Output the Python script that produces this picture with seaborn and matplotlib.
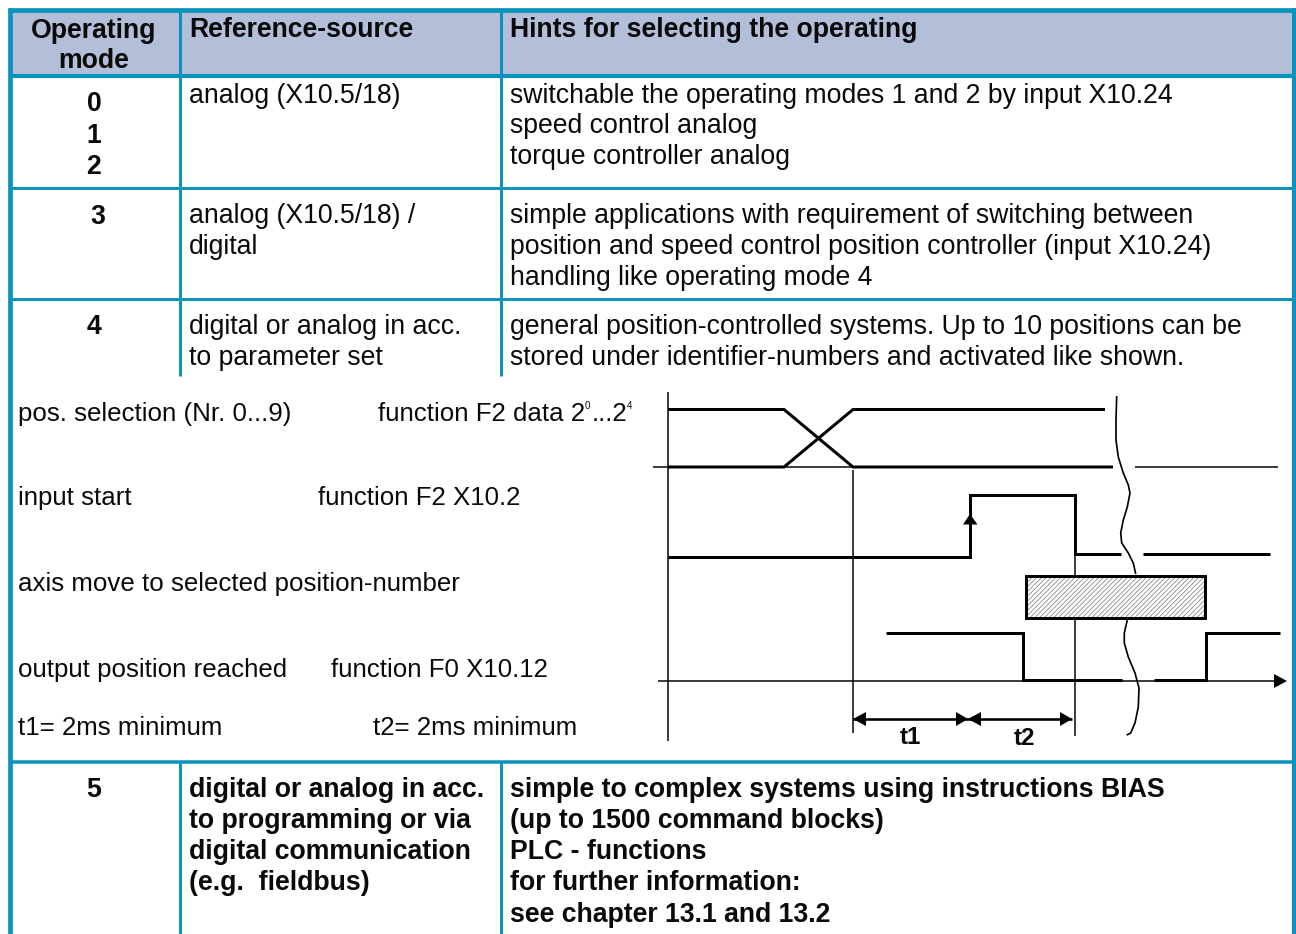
import matplotlib
matplotlib.use("Agg")
import matplotlib.pyplot as plt
from matplotlib.patches import Rectangle, Polygon
import pandas as pd
import seaborn as sns

# ---- text content ----
header_mode = ["Operating", "mode"]
header_source = "Reference-source"
header_hints = "Hints for selecting the operating"
modes = [["0", "1", "2"], ["3"], ["4"], ["5"]]
sources = [
    ["analog (X10.5/18)"],
    ["analog (X10.5/18) /", "digital"],
    ["digital or analog in acc.", "to parameter set"],
    ["digital or analog in acc.", "to programming or via", "digital communication", "(e.g.  fieldbus)"],
]
hints = [
    ["switchable the operating modes 1 and 2 by input X10.24", "speed control analog", "torque controller analog"],
    ["simple applications with requirement of switching between",
     "position and speed control position controller (input X10.24)",
     "handling like operating mode 4"],
    ["general position-controlled systems. Up to 10 positions can be",
     "stored under identifier-numbers and activated like shown."],
    ["simple to complex systems using instructions BIAS", "(up to 1500 command blocks)",
     "PLC - functions", "for further information:", "see chapter 13.1 and 13.2"],
]
signal_left = ["pos. selection (Nr. 0...9)", "input start", "axis move to selected position-number",
               "output position reached", "t1= 2ms minimum"]
signal_right = ["function F2 data 2", "function F2 X10.2", "", "function F0 X10.12", "t2= 2ms minimum"]

# ---- timing diagram traces (time, level) ----
sel_a_t = [668, 784, 853, 1113]
sel_a_v = [409.5, 409.5, 467, 467]
sel_b_t = [668, 784, 853, 1105]
sel_b_v = [467, 467, 409.5, 409.5]
start_t = [668, 970, 970, 1075, 1075, 1121]
start_v = [557, 557, 495, 495, 554, 554]
start2_t = [1143, 1270]
start2_v = [554, 554]
reached_t = [886, 1023, 1023, 1122]
reached_v = [633, 633, 680, 680]
reached2_t = [1154, 1206, 1206, 1280]
reached2_v = [680, 680, 633, 633]
break_x = [1116.7, 1116, 1116, 1118.3, 1123.3, 1128.3, 1130, 1127.3, 1123.3, 1120.7, 1121.7, 1128.3, 1133.3, 1135.7]
break_y = [396, 420, 440, 457, 473, 485, 493, 507, 520, 533, 543, 553, 563, 574]
break2_x = [1127.3, 1124.3, 1124.3, 1128.3, 1135, 1139, 1138.3, 1135, 1130.7, 1126.7]
break2_y = [620, 633, 643, 657, 673, 688, 707, 723, 733, 735]

# ---- colours ----
BORDER = "#0b93be"
HEAD = "#b3bfd9"

sns.set_theme(style="white", rc={"lines.solid_capstyle": "butt", "lines.solid_joinstyle": "miter",
                                 "hatch.linewidth": 0.5, "hatch.color": "#777777"})
plt.rcParams["font.family"] = ["Liberation Sans", "DejaVu Sans"]

W, H = 1296, 934
fig = plt.figure(figsize=(W / 100, H / 100), dpi=100, facecolor="white")
ax = fig.add_axes([0, 0, 1, 1])
ax.set_xlim(0, W)
ax.set_ylim(H, 0)
ax.axis("off")

px = 0.72  # points per pixel at dpi 100
FS = 19.2
FS2 = 18.65


def rule(x0, y0, x1, y1, w, c=BORDER, z=2):
    ax.plot([x0, x1], [y0, y1], color=c, lw=w * px, zorder=z, solid_capstyle="butt")


def trace(t, v, w=3.0, c="black", z=4):
    df = pd.DataFrame({"t": t, "v": v})
    sns.lineplot(data=df, x="t", y="v", sort=False, estimator=None, color=c, linewidth=w * px,
                 ax=ax, legend=False, zorder=z)


def txt(x, y, s, bold=False, ha="left", fs=FS, **kw):
    ax.text(x, y, s, ha=ha, va="baseline", fontsize=fs, color="#0a0a0a",
            fontweight="bold" if bold else "normal", zorder=6, **kw)


# table frame
ax.add_patch(Rectangle((10, 10), 1283, 65, facecolor=HEAD, edgecolor="none", zorder=1))
rule(7.5, 9.7, 1296, 9.7, 4.7)
rule(10, 7.5, 10, H, 4.7)
rule(1294, 7.5, 1294, H, 4)
for yy, w in [(75.5, 4.2), (187.5, 3), (298.5, 3), (761.5, 3.5)]:
    rule(10, yy, 1294, yy, w)
for xx in (179.5, 500.5):
    rule(xx, 9, xx, 376, 3)
    rule(xx, 761, xx, H, 3)

# header
for s, y in zip(header_mode, (38, 68)):
    txt(94, y, s, bold=True, ha="center")
txt(189, 37, header_source, bold=True)
txt(510, 37, header_hints, bold=True)

# rows
mode_pos = [(94, [111, 143, 174]), (98, [224]), (94, [334]), (94, [797])]
text_base = [[103, 133, 164], [223, 254, 285], [334, 365], [797, 828, 859, 890, 922]]
for r in range(4):
    bold = r == 3
    xm, ys = mode_pos[r]
    for s, y in zip(modes[r], ys):
        txt(xm, y, s, bold=True, ha="center")
    for s, y in zip(sources[r], text_base[r]):
        txt(189, y, s, bold=bold)
    for s, y in zip(hints[r], text_base[r]):
        txt(510, y, s, bold=bold)

# signal labels
lab_y = [421, 505, 591, 677, 735]
lab_x2 = [378, 318, 0, 331, 373]
for a, b, y, x2 in zip(signal_left, signal_right, lab_y, lab_x2):
    txt(18, y, a, fs=FS2)
    if b:
        txt(x2, y, b, fs=FS2)
txt(585, 409, "0", fs=7)
txt(592, 421, "...2", fs=FS2)
txt(627, 409, "4", fs=7)

# timing diagram: thin lines
thin = [([668, 668], [392, 741]), ([653, 1113], [467, 467]), ([1135, 1278], [466.5, 466.5]),
        ([853, 853], [470, 733]), ([1075, 1075], [495, 736]), ([658, 1278], [681, 681])]
for t, v in thin:
    trace(t, v, w=1.5, z=3)

for t, v in [(sel_a_t, sel_a_v), (sel_b_t, sel_b_v), (start_t, start_v), (start2_t, start2_v),
             (reached_t, reached_v), (reached2_t, reached2_v)]:
    trace(t, v, w=3.0)
trace(break_x, break_y, w=1.7)
trace(break2_x, break2_y, w=1.7)

# running position bar
ax.add_patch(Rectangle((1025.5, 576), 179, 42, facecolor="white", edgecolor="#777777", hatch="///////",
                       lw=0, zorder=5))
ax.add_patch(Rectangle((1025.5, 576), 179, 42, facecolor="none", edgecolor="black", lw=3 * px, zorder=5.5))

# arrow heads
for pts in [[(970, 514), (963, 524.5), (977.5, 524.5)],
            [(1287, 681), (1274, 674), (1274, 688)],
            [(853, 719), (866, 712), (866, 726)],
            [(968, 719), (956, 712), (956, 726)],
            [(968, 719), (981, 712), (981, 726)],
            [(1072, 719), (1060, 712), (1060, 726)]]:
    ax.add_patch(Polygon(pts, closed=True, facecolor="black", edgecolor="none", zorder=6))
trace([853, 1072], [719, 719], w=2.6)

for x, s, y in [(910, "t1", 744), (1024, "t2", 745)]:
    ax.text(x, y, s, ha="center", va="baseline", fontsize=17.5, fontweight="bold", color="#0a0a0a", zorder=6)

ax.set_xlim(0, W)
ax.set_ylim(H, 0)
ax.set_xlabel("")
ax.set_ylabel("")
fig.savefig("out.png", dpi=100, facecolor="white")
